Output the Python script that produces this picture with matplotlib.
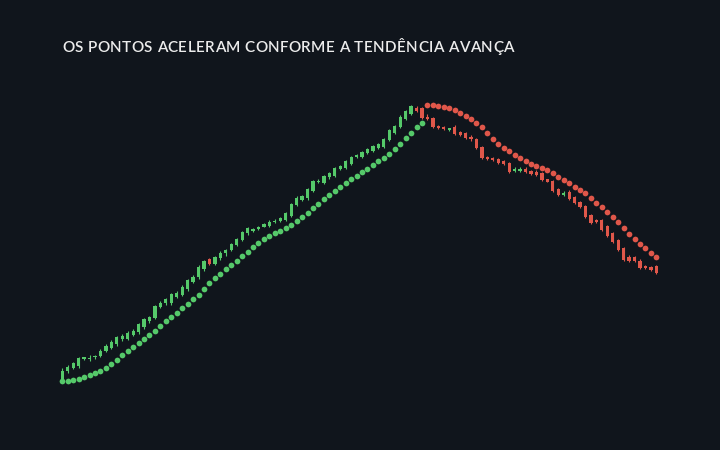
import numpy as np
import matplotlib
matplotlib.use("Agg")
import matplotlib.pyplot as plt

title = "OS PONTOS ACELERAM CONFORME A TENDÊNCIA AVANÇA"

opens = [70, 79.3, 82.3, 84, 90.7, 91.3, 93, 94, 99, 102,
         105.7, 110.7, 111.3, 115.3, 117.7, 122.7, 128.7, 132, 143, 146.7,
         146.7, 153.3, 155, 160.7, 168.3, 172.7, 180.7, 190.7, 186, 191.7,
         196.7, 200, 205, 210, 216.7, 219, 221.3, 223.3, 224, 227.7,
         229, 230, 234.3, 244.7, 250, 251.7, 259, 268, 267.3, 272.7,
         274, 280.7, 282.3, 286, 292.7, 293.3, 296.7, 299.3, 301.7, 303.3,
         310, 316.7, 323.3, 331, 335.7, 341.7, 341.7, 333.3, 332.3, 324,
         322.7, 320, 323.3, 318.3, 316.7, 313.3, 310.7, 303.3, 292.7, 292,
         291, 289.3, 286.7, 279, 279, 281.3, 279, 278.3, 276.7, 270.7,
         269.3, 261, 255, 258.3, 252.7, 248.3, 244, 235, 230, 230,
         224, 216.7, 210, 201.7, 193.3, 192.7, 189.3, 184.3, 183.3, 184]
closes = [79, 83.3, 86.7, 91.7, 92.7, 92.3, 94, 99.3, 104, 108.3,
          113.3, 114.3, 117.3, 119.3, 125.7, 130.7, 133.3, 144.3, 147.3, 150.7,
          155.7, 157.3, 163.3, 170, 173.3, 183.3, 189, 186, 193.3, 197.3,
          200, 206, 211, 218, 221.7, 221, 222.7, 226, 228.3, 229.3,
          232, 236.7, 246, 252.3, 254.3, 260.7, 268.7, 269.5, 274, 277.3,
          282.3, 284, 289, 292.7, 295, 297.7, 301, 304, 305.7, 310.7,
          320, 324, 333.3, 339, 344.3, 339, 332.3, 331, 323, 321.7,
          320.7, 321.7, 316, 315, 312.3, 310.7, 301.7, 291.7, 290.7, 290,
          287.3, 285.7, 278.3, 281, 281, 277.7, 276, 274.7, 270, 268.3,
          259, 255, 257.3, 251, 246.7, 243.3, 233.3, 227.3, 227.7, 220,
          214, 208.3, 200, 190, 189.3, 189.3, 181.7, 181.7, 180, 177.3]
highs = [81.7, 85, 88.3, 93.3, 93.3, 94.7, 95.3, 100.7, 105.7, 110,
         114.5, 115.7, 118.7, 120.7, 127, 132, 134.5, 145.5, 149, 152,
         157, 158.7, 164.7, 171.3, 174.7, 184.7, 190.3, 191.7, 194.5, 198.7,
         200.7, 207.3, 212.3, 219.3, 223, 222.3, 223.7, 227.3, 229.7, 230.7,
         233, 238, 247.3, 253.7, 255.5, 262, 270, 271.3, 275.3, 278.5,
         283.5, 285.3, 290.3, 294, 296.3, 299, 302.3, 305.3, 307, 312,
         321.3, 325.3, 334.7, 340.3, 345.5, 344, 343, 335.7, 333.5, 325.3,
         324, 322.3, 324.7, 319.5, 318, 315, 312, 304.5, 293.7, 293.3,
         292, 290.5, 288, 283.3, 283.3, 283, 280, 280, 278, 271.3,
         270.5, 262, 258.7, 260, 254, 249.5, 245.3, 236.3, 231, 231.3,
         225.3, 218, 211.3, 203, 194.7, 194, 190.7, 185.3, 184.3, 185]
lows = [69, 77.3, 81, 81.7, 90, 89, 90.7, 92.7, 97.7, 101,
        104.5, 109, 110, 114, 116.5, 121.5, 127.5, 131, 141.7, 145.5,
        145.5, 152, 154, 159.5, 167, 171.5, 179.5, 185, 185, 190.5,
        194, 199, 204, 209, 215.5, 218, 220.5, 222.7, 223, 226.7,
        228, 229, 233.3, 243.7, 249, 250.5, 258, 267, 266.3, 271.5,
        273, 279.7, 281.3, 285, 291.7, 292.3, 295.7, 298.3, 300.7, 302.3,
        309, 315.7, 322.3, 330, 334.7, 338, 331, 330, 322, 321,
        319.7, 319.5, 315, 314, 311.3, 309.3, 300.7, 290.7, 290, 289.3,
        286.3, 284.7, 277.3, 278.3, 278.3, 277, 275.3, 274, 269, 268,
        258, 254, 254.3, 250, 245.7, 242.3, 232.3, 226.3, 227, 219,
        213, 207.3, 199, 189, 188.3, 188.3, 180.7, 181, 179.3, 176.3]

# parabolic SAR: alta (abaixo das velas) e depois baixa (acima)
sar_up = [69.3, 69.3, 70, 71, 72.7, 74.7, 76.7, 79, 82, 85.7,
          89.7, 94.7, 99, 103, 106.7, 110.7, 114.7, 118.7, 123.7, 128.7,
          133.3, 137.5, 141.7, 145.7, 150.7, 155.3, 160.7, 166.7, 171.7, 176.3,
          180.7, 184.7, 188.7, 193.7, 198.3, 203, 207.3, 210.7, 214, 217,
          219.3, 222.3, 225.5, 229.5, 233.5, 237.5, 242, 246.5, 251, 255,
          259, 263, 267, 271, 274.5, 278, 281.5, 285, 289, 292.5,
          296.5, 301, 306, 311.7, 317.3, 322.7, 327.3]
sar_down = [345.3, 345, 344.3, 343.3, 341.7, 339.7, 337.3, 334.3, 331, 327.3,
            322.7, 317, 311, 306, 302.5, 299, 295, 291.7, 288.7, 286.3,
            284, 281.7, 279.7, 277.3, 273.3, 270, 266.7, 263.3, 260, 256.7,
            252, 247.3, 242.7, 238, 233, 228, 222.3, 216, 210.7, 206.3,
            201.7, 197.3, 193.3]

BG = "#10151c"
GREEN = "#55c96a"
RED = "#e0574a"

o = np.array(opens)
c = np.array(closes)
h = np.array(highs)
l = np.array(lows)
x = np.arange(len(o))
cols = np.where(c >= o, GREEN, RED)

fig = plt.figure(figsize=(7.2, 4.5), dpi=100, facecolor=BG)
ax = fig.add_axes([0, 0, 1, 1])
ax.set_facecolor(BG)

ax.vlines(x, l, h, colors=cols, linewidth=0.8, zorder=2)
body = np.maximum(np.abs(c - o), 1.0)
ax.bar(x, body, bottom=np.minimum(o, c), width=0.6, color=cols, linewidth=0, zorder=3)

x_up = x[:len(sar_up)]
x_down = x[len(sar_up):]
ax.scatter(x_up, sar_up, s=17, color=GREEN, linewidths=0, zorder=4)
ax.scatter(x_down, sar_down, s=17, color=RED, linewidths=0, zorder=4)

ax.set_xlim(-11.43, 120.68)
ax.set_ylim(0, 450)
ax.axis("off")

# titulo com espaçamento entre letras (0 -> 62px, fim em ~514px)
renderer = fig.canvas.get_renderer()
tkw = dict(color="#ececec", fontsize=11, family="Lato", fontweight="semibold",
           va="center", ha="left")


def text_width(s):
    t = fig.text(0, 0, s, **tkw)
    w = t.get_window_extent(renderer).width
    t.remove()
    return w


ref = text_width("H")
natural = text_width(title)
track = (452 - natural) / (len(title) - 1)
for i, ch in enumerate(title):
    xpos = 62 + (text_width(title[:i] + "H") - ref if i else 0) + i * track
    fig.text(xpos / 720, 1 - 48 / 450, ch, **tkw)

fig.savefig("out.png", dpi=100, facecolor=BG)
